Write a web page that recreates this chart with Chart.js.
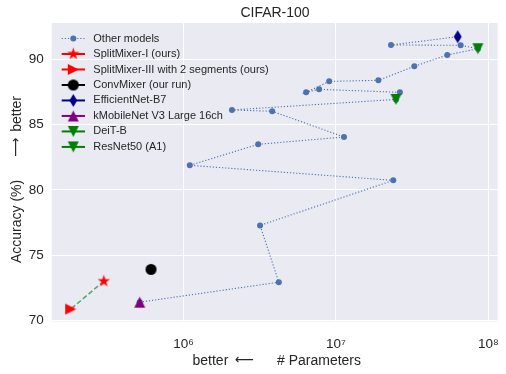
<!DOCTYPE html>
<html>
<head>
<meta charset="utf-8">
<script src="https://cdn.jsdelivr.net/npm/chart.js@4.4.1/dist/chart.umd.min.js"></script>
<style>
  body { margin: 0; background: #fff; }
</style>
</head>
<body>
<canvas id="cifar" width="506" height="374"></canvas>
<script>
// other models, in the order the dotted line joins them
const otherParams = [5.16e5, 4.22e6, 3.18e6, 2.38e7, 1.10e6, 3.09e6, 1.13e7, 3.82e6, 2.08e6, 2.48e7, 2.63e7,
                     7.76e6, 6.38e6, 9.04e6, 1.90e7, 3.27e7, 5.38e7, 8.55e7, 6.59e7, 2.30e7, 6.30e7];
const otherAcc = [71.4, 72.93, 77.28, 80.73, 81.88, 83.49, 84.05, 86.02, 86.12, 86.93, 87.47,
                  87.70, 87.47, 88.31, 88.39, 89.46, 90.33, 90.81, 91.07, 91.10, 91.73];

const modelNames = ['SplitMixer-I (ours)', 'SplitMixer-III with 2 segments (ours)', 'ConvMixer (our run)',
                    'EfficientNet-B7', 'kMobileNet V3 Large 16ch', 'DeiT-B', 'ResNet50 (A1)'];
const modelParams = [3.0e5, 1.82e5, 6.12e5, 6.30e7, 5.16e5, 8.55e7, 2.48e7];
const modelAcc = [73.01, 70.87, 73.91, 91.73, 71.4, 90.81, 86.93];

const xTicks = [1e6, 1e7, 1e8];
const yTicks = [70, 75, 80, 85, 90];

// marker styles, matplotlib-like
const markerShapes = ['star', 'right', 'circle', 'diamond', 'up', 'down', 'down'];
const markerColors = ['#ff0000', '#ff0000', '#000000', '#00008b', '#800080', '#008000', '#008000'];
const markerSizes = [13, 11, 11, 13, 11, 11, 11];

const FONT = '"Liberation Sans", Arial, sans-serif';
const TEXT = '#262626';
const BLUE = '#4c72b0';

function makeMarker(shape, color, size) {
    const c = document.createElement('canvas');
    const n = Math.ceil(size) + 4;
    c.width = n; c.height = n;
    const ctx = c.getContext('2d');
    const h = size / 2;
    ctx.translate(n / 2, n / 2);
    ctx.fillStyle = color;
    ctx.beginPath();
    if (shape === 'circle') {
        ctx.arc(0, 0, h, 0, Math.PI * 2);
    } else if (shape === 'star') {
        for (let i = 0; i < 10; i++) {
            const r = i % 2 ? h * 0.382 : h;
            const a = -Math.PI / 2 + i * Math.PI / 5;
            ctx.lineTo(r * Math.cos(a), r * Math.sin(a));
        }
    } else if (shape === 'up') {
        ctx.moveTo(0, -h); ctx.lineTo(h, h); ctx.lineTo(-h, h);
    } else if (shape === 'down') {
        ctx.moveTo(0, h); ctx.lineTo(h, -h); ctx.lineTo(-h, -h);
    } else if (shape === 'right') {
        ctx.moveTo(h, 0); ctx.lineTo(-h, h); ctx.lineTo(-h, -h);
    } else if (shape === 'diamond') {
        ctx.moveTo(0, -h); ctx.lineTo(h * 0.6, 0); ctx.lineTo(0, h); ctx.lineTo(-h * 0.6, 0);
    }
    ctx.closePath();
    ctx.fill();
    return c;
}

const markers = markerShapes.map((s, i) => makeMarker(s, markerColors[i], markerSizes[i]));
const sup = { 6: '\u2076', 7: '\u2077', 8: '\u2078' };

const datasets = modelNames.map((name, i) => ({
    label: name,
    data: [{ x: modelParams[i], y: modelAcc[i] }],
    showLine: false,
    pointStyle: markers[i],
    pointRadius: 6
}));
// dashed link between our two models
datasets.push({
    label: 'ours',
    data: [{ x: modelParams[0], y: modelAcc[0] }, { x: modelParams[1], y: modelAcc[1] }],
    borderColor: '#55a868',
    borderWidth: 1.6,
    borderDash: [5, 2.5],
    pointRadius: 0
});
datasets.push({
    label: 'Other models',
    data: otherParams.map((p, i) => ({ x: p, y: otherAcc[i] })),
    borderColor: BLUE,
    borderWidth: 1.1,
    borderDash: [1.2, 1.9],
    pointStyle: 'circle',
    pointRadius: 3,
    pointBorderWidth: 0,
    pointBackgroundColor: BLUE
});

const decor = {
    id: 'decor',
    beforeDraw(chart) {
        const { ctx, chartArea: a } = chart;
        ctx.save();
        ctx.fillStyle = '#eaeaf2';
        ctx.fillRect(a.left, a.top, a.right - a.left, a.bottom - a.top);
        ctx.restore();
    },
    afterDraw(chart) {
        const ctx = chart.ctx;
        ctx.save();
        ctx.fillStyle = TEXT;

        // title
        ctx.font = '14px ' + FONT;
        ctx.textAlign = 'center';
        ctx.textBaseline = 'middle';
        ctx.fillText('CIFAR-100', 275, 13.5);

        // x label
        ctx.textAlign = 'left';
        ctx.textBaseline = 'alphabetic';
        ctx.font = '14px ' + FONT;
        ctx.fillText('better', 192.5, 364.5);
        drawArrow(ctx, '\u27f5', 235, 364.5);
        ctx.font = '14px ' + FONT;
        ctx.fillText('# Parameters', 277, 364.5);

        // y label, rotated
        ctx.save();
        ctx.translate(20.5, 263);
        ctx.rotate(-Math.PI / 2);
        ctx.font = '14px ' + FONT;
        const w1 = ctx.measureText('Accuracy (%)').width;
        ctx.fillText('Accuracy (%)', 0, 0);
        drawArrow(ctx, '\u27f6', w1 + 23, 0);
        ctx.font = '14px ' + FONT;
        ctx.fillText('better', w1 + 48, 0);
        ctx.restore();

        // legend
        const rows = ['Other models'].concat(modelNames);
        ctx.font = '11px ' + FONT;
        ctx.textBaseline = 'middle';
        rows.forEach((name, i) => {
            const y = 38.5 + i * 15.49;
            ctx.save();
            ctx.beginPath();
            ctx.moveTo(61.7, y);
            ctx.lineTo(85, y);
            if (i === 0) {
                ctx.strokeStyle = BLUE;
                ctx.lineWidth = 1.1;
                ctx.setLineDash([1.2, 1.9]);
            } else {
                ctx.strokeStyle = markerColors[i - 1];
                ctx.lineWidth = 2;
            }
            ctx.stroke();
            ctx.restore();
            if (i === 0) {
                ctx.fillStyle = BLUE;
                ctx.beginPath();
                ctx.arc(73.3, y, 3, 0, Math.PI * 2);
                ctx.fill();
            } else {
                const m = markers[i - 1];
                ctx.drawImage(m, 73.3 - m.width / 2, y - m.height / 2);
            }
            ctx.fillStyle = TEXT;
            ctx.fillText(name, 93.3, y);
        });
        ctx.restore();
    }
};

function drawArrow(ctx, ch, x, y) {
    ctx.save();
    ctx.font = '14px "DejaVu Sans", sans-serif';
    const w = ctx.measureText(ch).width;
    ctx.translate(x, y);
    ctx.scale(19 / w, 1);
    ctx.fillText(ch, 0, -0.5);
    ctx.restore();
}

new Chart('cifar', {
    type: 'line',
    data: { datasets: datasets },
    options: {
        responsive: false,
        animation: false,
        layout: { padding: { top: 23, right: 8.3, left: 0, bottom: 0 } },
        plugins: { legend: { display: false }, tooltip: { enabled: false }, title: { display: false } },
        scales: {
            x: {
                type: 'logarithmic',
                min: 1.365e5,
                max: 1.153e8,
                afterBuildTicks: s => { s.ticks = xTicks.map(v => ({ value: v })); },
                afterFit: s => { s.height = 52.5; s.paddingLeft = 0; s.paddingRight = 0; },
                grid: { color: '#ffffff', lineWidth: 1, drawTicks: false },
                border: { display: false },
                ticks: {
                    padding: 15,
                    color: TEXT,
                    font: { family: FONT, size: 13.5 },
                    autoSkip: false,
                    maxRotation: 0,
                    callback: v => '10' + sup[Math.round(Math.log10(v))]
                }
            },
            y: {
                min: 69.92,
                max: 92.78,
                afterBuildTicks: s => { s.ticks = yTicks.map(v => ({ value: v })); },
                afterFit: s => { s.width = 51.7; s.paddingTop = 0; s.paddingBottom = 0; },
                grid: { color: '#ffffff', lineWidth: 1, drawTicks: false },
                border: { display: false },
                ticks: { padding: 8, color: TEXT, font: { family: FONT, size: 13.5 } }
            }
        }
    },
    plugins: [decor]
});
</script>
</body>
</html>
